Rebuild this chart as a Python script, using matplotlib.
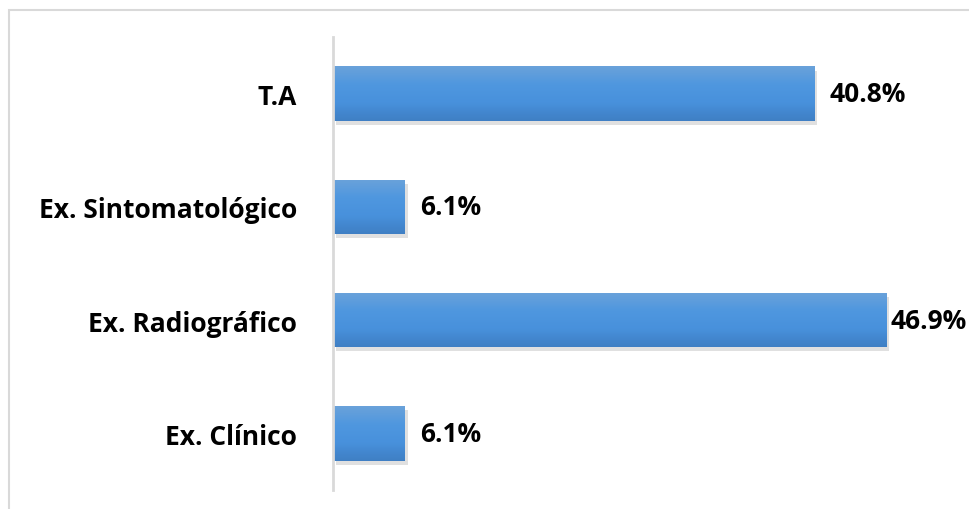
import matplotlib.pyplot as plt
import numpy as np
import matplotlib.patheffects as pe
from matplotlib.patches import Rectangle
from matplotlib.colors import LinearSegmentedColormap

# data (bottom to top)
categories = ["Ex. Clínico", "Ex. Radiográfico", "Ex. Sintomatológico", "T.A"]
values = [6.1, 46.9, 6.1, 40.8]
value_labels = ["6.1%", "46.9%", "6.1%", "40.8%"]

plt.rcParams["font.family"] = ["Open Sans", "DejaVu Sans"]

fig = plt.figure(figsize=(9.69, 5.10), dpi=100)
ax = fig.add_axes([333 / 969, 19 / 510, 590 / 969, 453 / 510])

y = np.arange(len(categories))
bars = ax.barh(y, values, height=0.48, color="#4a90d9", edgecolor="none", zorder=2)

# vertical gradient + soft shadow for each bar
grad = LinearSegmentedColormap.from_list(
    "g", ["#3f7fc4", "#4891dc", "#4f97df", "#6aa2da"])
for b in bars:
    b.set_path_effects([pe.SimplePatchShadow(offset=(2, -3), shadow_rgbFace="#999999", alpha=0.3),
                        pe.Normal()])
    x0, y0 = b.get_x(), b.get_y()
    w, h = b.get_width(), b.get_height()
    im = ax.imshow(np.linspace(0, 1, 64).reshape(-1, 1), cmap=grad, origin="lower",
                   extent=[x0, x0 + w, y0, y0 + h], aspect="auto", zorder=3)
    im.set_clip_path(b)

# value labels; the longest bar's label sits closer so it fits the frame
for yi, v, lab in zip(y, values, value_labels):
    off = 3 if v == max(values) else 11
    ax.annotate(lab, (v, yi), xytext=(off, 0), textcoords="offset points",
                va="center", ha="left", fontsize=19, fontweight="bold",
                color="black", zorder=4, annotation_clip=False)

ax.set_xlim(0, 50)
ax.set_ylim(-0.5, len(categories) - 0.5)
ax.set_yticks(y)
ax.set_yticklabels(categories, fontsize=19, fontweight="bold")
ax.tick_params(axis="y", length=0, pad=26)
ax.set_xticks([])
for s in ["top", "right", "bottom"]:
    ax.spines[s].set_visible(False)
ax.spines["left"].set_color("#d9d9d9")
ax.spines["left"].set_linewidth(2)
ax.spines["left"].set_zorder(5)

# outer frame
fig.patches.append(Rectangle((9 / 969, -0.1), 1.2, (499 / 510) + 0.1,
                             transform=fig.transFigure, fill=False,
                             edgecolor="#d9d9d9", linewidth=1.5))

fig.savefig("out.png", dpi=100)
